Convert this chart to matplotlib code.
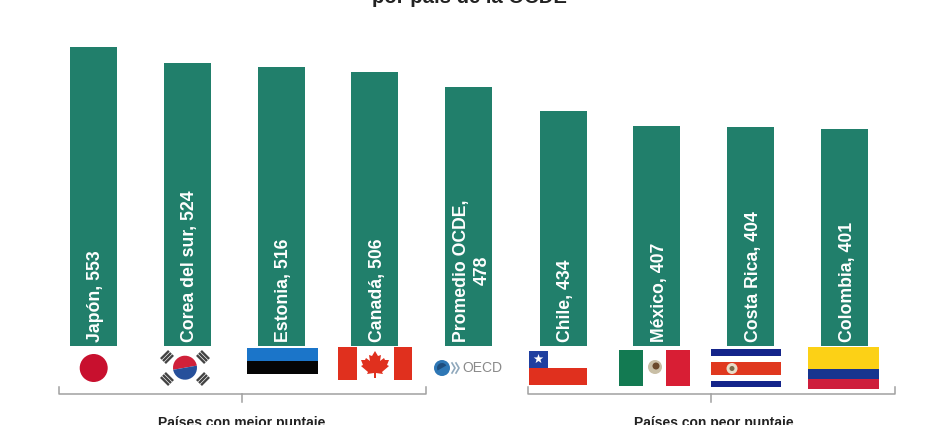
import numpy as np
import matplotlib
matplotlib.use('Agg')
import matplotlib.pyplot as plt
from matplotlib.patches import Rectangle, Circle, Wedge, Polygon

plt.rcParams['font.family'] = ['Liberation Sans', 'DejaVu Sans']

paises = ['Japón', 'Corea del sur', 'Estonia', 'Canadá', 'Promedio OCDE,\n', 'Chile', 'México', 'Costa Rica', 'Colombia']
puntajes = [553, 524, 516, 506, 478, 434, 407, 404, 401]
titulo = 'por país de la OCDE'
grupo_mejor = 'Países con mejor puntaje'
grupo_peor = 'Países con peor puntaje'

VERDE = '#217F6B'
W, H = 936, 425

fig = plt.figure(figsize=(W / 100, H / 100), dpi=100)

# barras: la escala deja el cero en y=346 px y cada pais cada 94 px
ax = fig.add_axes([0, 0, 1, 1])
ax.bar(range(len(puntajes)), puntajes, width=0.5, color=VERDE)
ax.set_xlim(-93 / 94, (W - 93) / 94)
ax.set_ylim(-(H - 346) / 0.541, 346 / 0.541)
ax.axis('off')
for i, (p, v) in enumerate(zip(paises, puntajes)):
    if p.endswith('\n'):
        etiqueta = p + str(v)
    else:
        etiqueta = p + ', ' + str(v)
    ax.text(i + 0.03, 8, etiqueta, rotation=90, color='white', fontsize=12.7, ha='center', va='bottom',
            multialignment='center', fontweight='bold', linespacing=1.3)

# capa en pixeles para banderas y llaves
fl = fig.add_axes([0, 0, 1, 1], facecolor='none')
fl.set_xlim(0, W)
fl.set_ylim(H, 0)
fl.axis('off')


def rect(x0, x1, y0, y1, c):
    fl.add_patch(Rectangle((x0, y0), x1 - x0, y1 - y0, color=c, lw=0))


def estrella(cx, cy, r, c):
    ang = np.deg2rad(np.arange(10) * 36 - 90)
    rad = np.where(np.arange(10) % 2 == 0, r, r * 0.4)
    fl.add_patch(Polygon(np.c_[cx + rad * np.cos(ang), cy + rad * np.sin(ang)], color=c, lw=0))


# Japon
fl.add_patch(Circle((93.7, 368), 14, color='#C8102E', lw=0))

# Corea
fl.add_patch(Wedge((185, 367.7), 12, 170, 350, color='#D0213A', lw=0))
fl.add_patch(Wedge((185, 367.7), 12, -10, 170, color='#27509B', lw=0))
for sx, sy in [(-1, -1), (1, -1), (-1, 1), (1, 1)]:
    cx, cy = 185 + sx * 18, 368 + sy * 11
    dx, dy = sx * 0.707, sy * 0.707
    for k in (-3, 0, 3):
        px, py = cx + dx * k, cy + dy * k
        fl.plot([px + dy * 4.5, px - dy * 4.5], [py - dx * 4.5, py + dx * 4.5], color='#444444', lw=1.7)

# Estonia
rect(247, 318, 348, 361, '#1B75C9')
rect(247, 318, 361, 374, '#050505')

# Canada
rect(338, 357, 347, 380, '#E0301E')
rect(394, 412, 347, 380, '#E0301E')
hoja = [(375, 351), (378, 356), (381, 355), (380, 361), (384, 358), (385, 360), (389, 360), (387, 365),
        (389, 366), (382, 372), (383, 374), (376, 373), (376, 378), (374, 378), (374, 373), (367, 374),
        (368, 372), (361, 366), (363, 365), (361, 360), (365, 360), (366, 358), (370, 361), (369, 355), (372, 356)]
fl.add_patch(Polygon(hoja, color='#E0301E', lw=0))

# OCDE
fl.add_patch(Circle((442, 368), 8, color='#2E77B5', lw=0))
fl.add_patch(Wedge((442, 368), 5, 150, 330, color='#1E4E7E', lw=0))
for x0 in (452, 456):
    fl.plot([x0, x0 + 3, x0], [363, 368, 373], color='#8FA8BC', lw=1.2)
fl.text(462, 368.5, 'OECD', color='#8A8A8A', fontsize=10, ha='left', va='center')

# Chile
rect(529, 587, 351, 368, '#FFFFFF')
rect(529, 548, 351, 368, '#1F3FA0')
rect(529, 587, 368, 385, '#E0301E')
estrella(538.5, 359, 5, 'white')

# Mexico
rect(619, 643, 350, 386, '#137A52')
rect(666, 690, 350, 386, '#D81E34')
fl.add_patch(Circle((655, 367), 7, color='#C9BFA6', lw=0))
fl.add_patch(Circle((656, 366), 3.5, color='#6B4A2B', lw=0))

# Costa Rica
rect(711, 781, 349, 356, '#14248A')
rect(711, 781, 362, 375, '#E0381F')
rect(711, 781, 381, 387, '#14248A')
fl.add_patch(Circle((732, 368.5), 5.5, color='#E8DCC8', lw=0))
fl.add_patch(Circle((732, 368.5), 2.5, color='#7A6A4A', lw=0))

# Colombia
rect(808, 879, 347, 369, '#FCD116')
rect(808, 879, 369, 379, '#17358F')
rect(808, 879, 379, 389, '#CE1E3C')

# llaves
for x0, x1, xm in [(59, 426, 242), (528, 895, 711)]:
    fl.plot([x0, x0, x1, x1], [387, 394, 394, 387], color='#A0A0A0', lw=1.1)
    fl.plot([xm, xm], [394, 402], color='#A0A0A0', lw=1.1)

fl.text(242, 427, grupo_mejor, fontsize=10, fontweight='bold', color='#222222', ha='center', va='baseline')
fl.text(714, 427, grupo_peor, fontsize=10, fontweight='bold', color='#222222', ha='center', va='baseline')
fl.text(469, 3, titulo, fontsize=14.6, fontweight='bold', color='#222222', ha='center', va='baseline')

plt.savefig('out.png', dpi=100)
